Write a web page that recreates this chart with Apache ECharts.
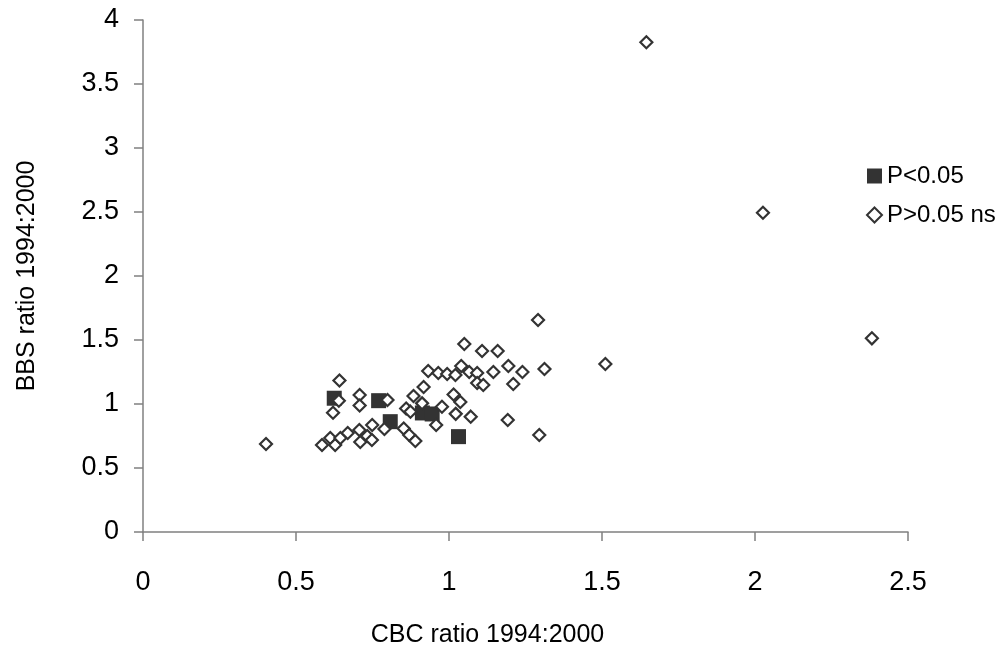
<!DOCTYPE html>
<html><head><meta charset="utf-8">
<script src="https://cdn.jsdelivr.net/npm/echarts@6/dist/echarts.min.js"></script>
<style>html,body{margin:0;padding:0;background:#fff}#c{width:1003px;height:664px}</style>
</head><body><div id="c"></div>
<script>
// P<0.05 points: [CBC ratio, BBS ratio]
var sigX = [0.625, 0.770, 0.808, 1.031, 0.913, 0.945];
var sigY = [1.045, 1.026, 0.862, 0.745, 0.930, 0.922];
// P>0.05 ns points
var nsX = [0.402,0.585,0.612,0.628,0.645,0.669,0.707,0.710,0.733,0.749,0.748,0.789,0.642,0.640,0.621,0.708,0.708,0.799,0.852,0.870,0.890,0.860,0.884,0.917,0.912,0.874,0.958,0.977,1.015,1.037,1.022,1.071,1.192,1.295,0.932,0.965,0.994,1.021,1.040,1.066,1.092,1.092,1.112,1.145,1.194,1.240,1.210,1.312,1.050,1.108,1.159,1.291,1.511,1.645,2.026,2.382];
var nsY = [0.688,0.680,0.734,0.680,0.734,0.773,0.797,0.703,0.750,0.836,0.719,0.805,1.184,1.026,0.932,1.070,0.988,1.031,0.809,0.758,0.711,0.965,1.063,1.133,1.005,0.940,0.836,0.979,1.074,1.016,0.923,0.901,0.875,0.758,1.258,1.242,1.234,1.227,1.297,1.250,1.242,1.164,1.148,1.250,1.297,1.250,1.156,1.273,1.469,1.414,1.414,1.656,1.313,3.826,2.494,1.513];
var seriesNames = ['P<0.05', 'P>0.05 ns'];
var xTitle = 'CBC ratio 1994:2000';
var yTitle = 'BBS ratio 1994:2000';

function zip(a, b){ return a.map(function(v,i){ return [v, b[i]]; }); }
var FONT = '"Liberation Sans", Arial, sans-serif';
var axisCommon = {
  axisLine: {show: true, lineStyle: {color: '#808080', width: 1.5}},
  axisTick: {show: true, length: 9, lineStyle: {color: '#808080', width: 1.5}},
  splitLine: {show: false},
  axisLabel: {color: '#000', fontSize: 27, fontFamily: FONT},
  nameTextStyle: {color: '#000', fontSize: 25, fontFamily: FONT}
};
var chart = echarts.init(document.getElementById('c'), null, {renderer: 'canvas'});
chart.setOption({
  backgroundColor: '#fff',
  animation: false,
  grid: {left: 143, right: 95, top: 20, bottom: 132, containLabel: false},
  xAxis: Object.assign({}, axisCommon, {
    type: 'value', min: 0, max: 2.5, interval: 0.5,
    name: xTitle, nameLocation: 'middle', nameGap: 91,
    nameTextStyle: Object.assign({}, axisCommon.nameTextStyle, {padding: [0, 76, 0, 0]}),
    axisLabel: Object.assign({}, axisCommon.axisLabel, {margin: 37})
  }),
  yAxis: Object.assign({}, axisCommon, {
    type: 'value', min: 0, max: 4, interval: 0.5,
    name: yTitle, nameLocation: 'middle', nameGap: 103,
    axisLabel: Object.assign({}, axisCommon.axisLabel, {margin: 24})
  }),
  legend: {
    orient: 'vertical', left: 866, top: 164, padding: 0,
    itemWidth: 15, itemHeight: 15, itemGap: 15,
    textStyle: {color: '#000', fontSize: 24, fontFamily: FONT, lineHeight: 24, padding: [0,0,0,0]},
    data: [
      {name: seriesNames[0], icon: 'rect'},
      {name: seriesNames[1], icon: 'diamond'}
    ]
  },
  series: [
    {
      name: seriesNames[0], type: 'scatter', symbol: 'rect', symbolSize: 15,
      itemStyle: {color: '#333333', opacity: 1},
      data: zip(sigX, sigY)
    },
    {
      name: seriesNames[1], type: 'scatter', symbol: 'diamond', symbolSize: 12,
      itemStyle: {color: '#ffffff', borderColor: '#333333', borderWidth: 2.2, opacity: 1},
      data: zip(nsX, nsY)
    }
  ]
});
</script>
</body></html>
